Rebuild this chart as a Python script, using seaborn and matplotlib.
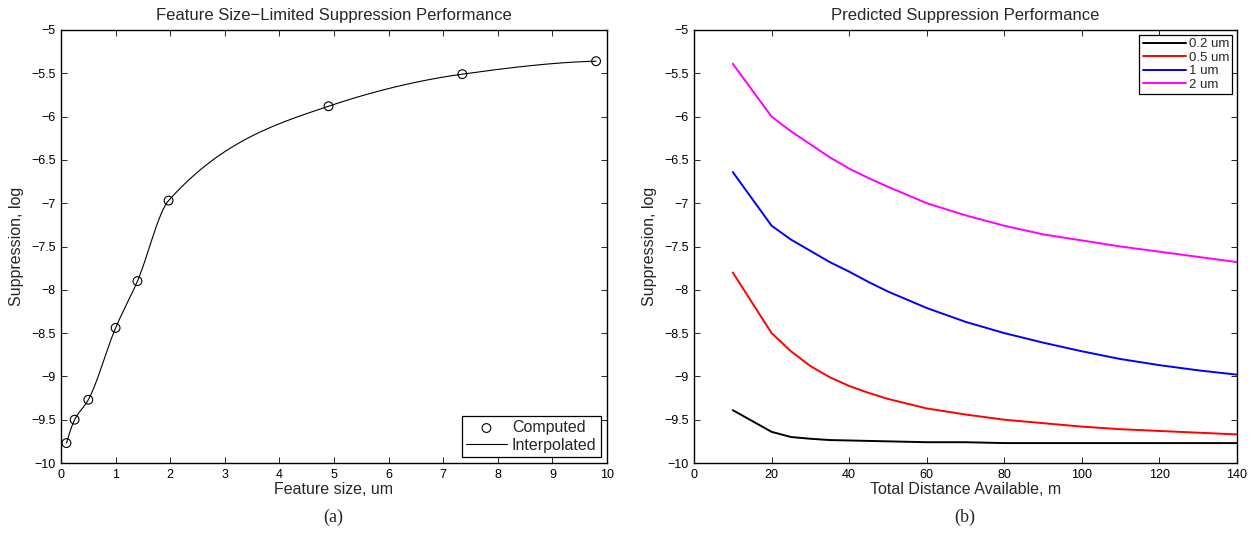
import numpy as np
import pandas as pd
import matplotlib
matplotlib.use("Agg")
import matplotlib.pyplot as plt
import seaborn as sns

# ---------------- data ----------------
feature_size = [0.1, 0.25, 0.5, 1.0, 1.4, 1.97, 4.9, 7.35, 9.8]
suppression_computed = [-9.77, -9.50, -9.27, -8.44, -7.90, -6.97, -5.88, -5.51, -5.36]

distance = [10, 20, 25, 30, 35, 40, 45, 50, 60, 70, 80, 90, 100, 110, 120, 130, 140]
supp_02um = [-9.39, -9.64, -9.70, -9.72, -9.735, -9.74, -9.745, -9.75, -9.76, -9.76, -9.77, -9.77, -9.77, -9.77, -9.77, -9.77, -9.77]
supp_05um = [-7.80, -8.50, -8.71, -8.88, -9.01, -9.11, -9.19, -9.26, -9.37, -9.44, -9.50, -9.54, -9.58, -9.61, -9.63, -9.65, -9.67]
supp_1um = [-6.64, -7.26, -7.42, -7.55, -7.68, -7.79, -7.91, -8.02, -8.21, -8.37, -8.50, -8.61, -8.71, -8.80, -8.87, -8.93, -8.98]
supp_2um = [-5.39, -6.00, -6.17, -6.32, -6.47, -6.60, -6.71, -6.81, -7.00, -7.14, -7.26, -7.36, -7.43, -7.50, -7.56, -7.62, -7.68]
series_labels = ["0.2 um", "0.5 um", "1 um", "2 um"]
series_colors = ["#000000", "#ff0000", "#0000ff", "#ff00ff"]


def pchip(x, y, xq):
    """Shape-preserving piecewise cubic Hermite interpolation (MATLAB pchip)."""
    x = np.asarray(x, float)
    y = np.asarray(y, float)
    h = np.diff(x)
    delta = np.diff(y) / h
    n = len(x)
    d = np.zeros(n)
    for k in range(1, n - 1):
        if delta[k - 1] * delta[k] > 0:
            w1 = 2 * h[k] + h[k - 1]
            w2 = h[k] + 2 * h[k - 1]
            d[k] = (w1 + w2) / (w1 / delta[k - 1] + w2 / delta[k])
        else:
            d[k] = 0.0

    def end_slope(h0, h1, del0, del1):
        s = ((2 * h0 + h1) * del0 - h0 * del1) / (h0 + h1)
        if np.sign(s) != np.sign(del0):
            s = 0.0
        elif np.sign(del0) != np.sign(del1) and abs(s) > abs(3 * del0):
            s = 3 * del0
        return s

    d[0] = end_slope(h[0], h[1], delta[0], delta[1])
    d[-1] = end_slope(h[-1], h[-2], delta[-1], delta[-2])
    idx = np.clip(np.searchsorted(x, xq, side="right") - 1, 0, n - 2)
    hk = h[idx]
    t = (xq - x[idx]) / hk
    h00 = 2 * t ** 3 - 3 * t ** 2 + 1
    h10 = t ** 3 - 2 * t ** 2 + t
    h01 = -2 * t ** 3 + 3 * t ** 2
    h11 = t ** 3 - t ** 2
    return h00 * y[idx] + h10 * hk * d[idx] + h01 * y[idx + 1] + h11 * hk * d[idx + 1]


xq = np.linspace(feature_size[0], feature_size[-1], 800)
df_interp = pd.DataFrame({"x": xq, "y": pchip(feature_size, suppression_computed, xq)})
df_comp = pd.DataFrame({"x": feature_size, "y": suppression_computed})

rows = []
for lab, vals in zip(series_labels, [supp_02um, supp_05um, supp_1um, supp_2um]):
    for dd, v in zip(distance, vals):
        rows.append({"distance": dd, "supp": v, "size": lab})
df_pred = pd.DataFrame(rows)

# ---------------- style ----------------
sns.set_theme(style="ticks")
plt.rcParams["font.family"] = ["Liberation Sans", "DejaVu Sans"]
plt.rcParams["axes.unicode_minus"] = True

fig = plt.figure(figsize=(12.53, 5.43), dpi=100)
ax1 = fig.add_axes([61 / 1253, 80 / 543, 546 / 1253, 433 / 543])
ax2 = fig.add_axes([694 / 1253, 80 / 543, 543 / 1253, 433 / 543])

# ---- left panel ----
sns.scatterplot(data=df_comp, x="x", y="y", ax=ax1, marker="o", s=40,
                facecolors="none", edgecolor="black", linewidth=0.8,
                label="Computed", zorder=3)
sns.lineplot(data=df_interp, x="x", y="y", ax=ax1, color="black",
             linewidth=0.8, label="Interpolated", sort=False)
ax1.set_xlim(0, 10)
ax1.set_ylim(-10, -5)
ax1.set_xticks(np.arange(0, 11, 1))
ax1.set_yticks(np.arange(-10, -4.99, 0.5))
ax1.set_xticklabels([f"{v:g}" for v in np.arange(0, 11, 1)])
ax1.set_yticklabels([f"{v:g}".replace("-", "\u2212") for v in np.arange(-10, -4.99, 0.5)])
ax1.set_title("Feature Size\u2212Limited Suppression Performance", fontsize=12, pad=7)
ax1.set_xlabel("Feature size, um", fontsize=11.5, labelpad=1)
ax1.set_ylabel("Suppression, log", fontsize=11.5, labelpad=5)
leg1 = ax1.legend(loc="lower right", fontsize=11.5, frameon=True, fancybox=False,
                  edgecolor="black", framealpha=1, handlelength=2.6,
                  borderpad=0.25, labelspacing=0.15, handletextpad=0.3,
                  borderaxespad=0.4)
leg1.get_frame().set_linewidth(0.9)

# ---- right panel ----
sns.lineplot(data=df_pred, x="distance", y="supp", hue="size",
             hue_order=series_labels, palette=series_colors, ax=ax2,
             linewidth=1.4)
ax2.set_xlim(0, 140)
ax2.set_ylim(-10, -5)
ax2.set_xticks(np.arange(0, 141, 20))
ax2.set_yticks(np.arange(-10, -4.99, 0.5))
ax2.set_xticklabels([f"{v:g}" for v in np.arange(0, 141, 20)])
ax2.set_yticklabels([f"{v:g}".replace("-", "\u2212") for v in np.arange(-10, -4.99, 0.5)])
ax2.set_title("Predicted Suppression Performance", fontsize=12, pad=7)
ax2.set_xlabel("Total Distance Available, m", fontsize=11.5, labelpad=1)
ax2.set_ylabel("Suppression, log", fontsize=11.5, labelpad=5)
leg2 = ax2.legend(loc="upper right", fontsize=9.5, frameon=True, fancybox=False,
                  edgecolor="black", framealpha=1, handlelength=3.3,
                  borderpad=0.25, labelspacing=0.1, handletextpad=0.2,
                  borderaxespad=0.35, title=None)
leg2.get_frame().set_linewidth(0.9)

for ax in (ax1, ax2):
    for sp in ax.spines.values():
        sp.set_visible(True)
        sp.set_linewidth(1.0)
        sp.set_color("black")
    ax.tick_params(direction="in", length=4, width=0.6, labelsize=9,
                   top=True, right=True, colors="black", pad=4)
    ax.grid(False)

fig.text(333 / 1253, 1 - 517 / 543, "(a)", ha="center", va="center",
         fontsize=13, family=["Liberation Serif", "DejaVu Serif"])
fig.text(965 / 1253, 1 - 517 / 543, "(b)", ha="center", va="center",
         fontsize=13, family=["Liberation Serif", "DejaVu Serif"])

fig.savefig("out.png", dpi=100, facecolor="white")
